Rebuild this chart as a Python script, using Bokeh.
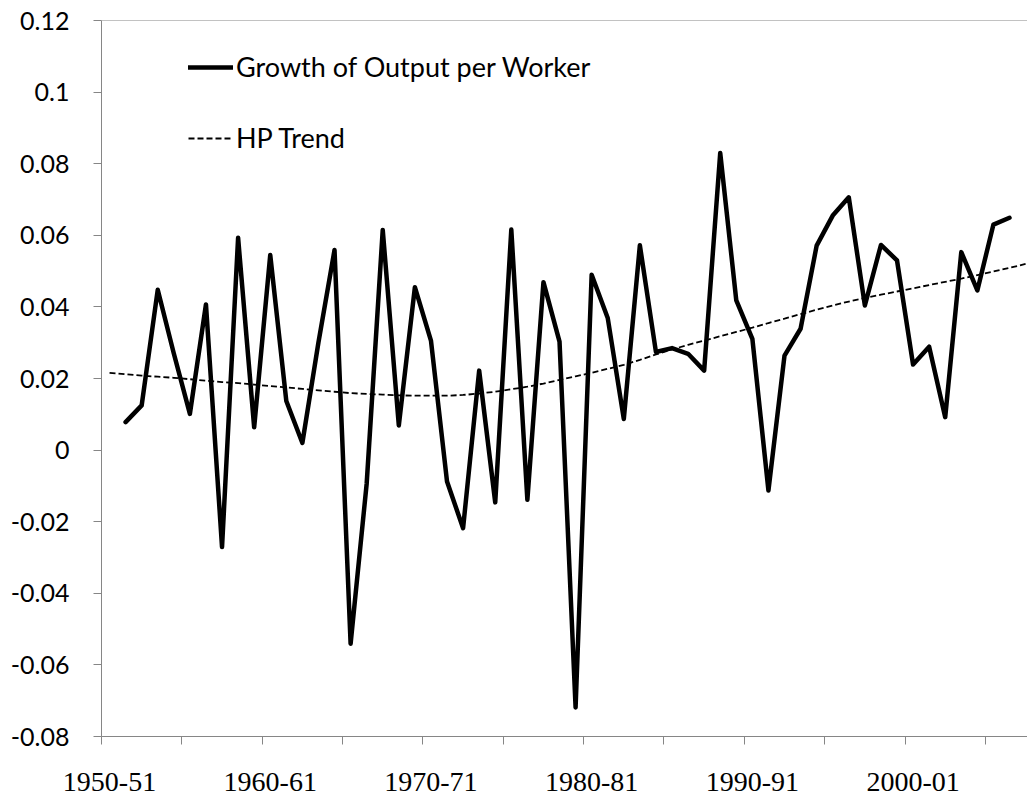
from bokeh.plotting import figure
from bokeh.models import FixedTicker, Span, Legend, LegendItem, Range1d
from bokeh.embed import file_html
from bokeh.resources import INLINE

years = ["1950-51", "1951-52", "1952-53", "1953-54", "1954-55", "1955-56", "1956-57", "1957-58",
         "1958-59", "1959-60", "1960-61", "1961-62", "1962-63", "1963-64", "1964-65", "1965-66",
         "1966-67", "1967-68", "1968-69", "1969-70", "1970-71", "1971-72", "1972-73", "1973-74",
         "1974-75", "1975-76", "1976-77", "1977-78", "1978-79", "1979-80", "1980-81", "1981-82",
         "1982-83", "1983-84", "1984-85", "1985-86", "1986-87", "1987-88", "1988-89", "1989-90",
         "1990-91", "1991-92", "1992-93", "1993-94", "1994-95", "1995-96", "1996-97", "1997-98",
         "1998-99", "1999-00", "2000-01", "2001-02", "2002-03", "2003-04", "2004-05", "2005-06",
         "2006-07", "2007-08"]

NA = float("nan")
growth = [NA, 0.0078, 0.0125, 0.0448, 0.0270, 0.0101, 0.0407, -0.0271, 0.0593, 0.0064,
          0.0545, 0.0137, 0.0020, 0.0301, 0.0559, -0.0541, -0.0094, 0.0615, 0.0069, 0.0455,
          0.0306, -0.0088, -0.0218, 0.0222, -0.0146, 0.0616, -0.0139, 0.0469, 0.0303, -0.0719,
          0.0490, 0.0369, 0.0087, 0.0572, 0.0274, 0.0285, 0.0269, 0.0222, 0.0830, 0.0418,
          0.0311, -0.0113, 0.0264, 0.0339, 0.0571, 0.0655, 0.0706, 0.0404, 0.0573, 0.0530,
          0.0239, 0.0289, 0.0092, 0.0553, 0.0446, 0.0630, 0.0649, NA]

hp_trend = [0.0216, 0.0212, 0.0208, 0.0205, 0.0202, 0.0198, 0.0194, 0.0190, 0.0187, 0.0183,
            0.0179, 0.0175, 0.0171, 0.0167, 0.0163, 0.0159, 0.0157, 0.0155, 0.0153, 0.0152,
            0.0152, 0.0152, 0.0154, 0.0158, 0.0163, 0.0170, 0.0177, 0.0186, 0.0196, 0.0206,
            0.0216, 0.0227, 0.0238, 0.0252, 0.0267, 0.0281, 0.0294, 0.0306, 0.0318, 0.0330,
            0.0342, 0.0355, 0.0367, 0.0380, 0.0392, 0.0404, 0.0415, 0.0425, 0.0434, 0.0443,
            0.0452, 0.0461, 0.0470, 0.0479, 0.0489, 0.0499, 0.0509, 0.0520]

y_ticks = [-0.08, -0.06, -0.04, -0.02, 0.0, 0.02, 0.04, 0.06, 0.08, 0.1, 0.12]
y_labels = ["-0.08", "-0.06", "-0.04", "-0.02", "0", "0.02", "0.04", "0.06", "0.08", "0.1", "0.12"]
x_label_idx = [0, 10, 20, 30, 40, 50]
x_minor = [-0.5, 4.5, 9.5, 14.5, 19.5, 24.5, 29.5, 34.5, 39.5, 44.5, 49.5, 54.5]

x = list(range(len(years)))
AXIS = "#868686"

p = figure(width=1027, height=798, output_backend="svg", toolbar_location=None,
           x_range=Range1d(-0.5, 57.12), y_range=Range1d(-0.08, 0.12),
           min_border_left=101, min_border_right=0, min_border_top=20, min_border_bottom=62)
p.xgrid.grid_line_color = None
p.ygrid.grid_line_color = None
p.outline_line_color = None
p.background_fill_color = "white"
p.border_fill_color = "white"

xa = p.xaxis[0]
xa.ticker = FixedTicker(ticks=x_label_idx, minor_ticks=x_minor)
xa.major_label_overrides = {i: years[i] for i in x_label_idx}
xa.major_tick_line_color = None
xa.major_tick_out = 8
xa.major_tick_in = 0
xa.minor_tick_line_color = AXIS
xa.minor_tick_out = 8
xa.minor_tick_in = 0
xa.axis_line_color = AXIS
xa.major_label_text_font = "Liberation Serif"
xa.major_label_text_font_size = "28px"
xa.major_label_text_color = "black"
xa.major_label_standoff = 28

ya = p.yaxis[0]
ya.ticker = FixedTicker(ticks=y_ticks)
ya.major_label_overrides = dict(zip(y_ticks, y_labels))
ya.major_tick_line_color = AXIS
ya.major_tick_out = 8
ya.major_tick_in = 0
ya.minor_tick_line_color = None
ya.axis_line_color = AXIS
ya.major_label_text_font = "Lato"
ya.major_label_text_font_size = "25px"
ya.major_label_text_color = "black"
ya.major_label_standoff = 24

p.add_layout(Span(location=0.12, dimension="width", line_color=AXIS, line_width=1))

r_growth = p.line(x, growth, line_color="black", line_width=4.5, line_join="round", line_cap="round")
r_trend = p.line(x, hp_trend, line_color="black", line_width=1.8, line_dash="6 3")

legend = Legend(items=[LegendItem(label="Growth of Output per Worker", renderers=[r_growth]),
                       LegendItem(label="HP Trend", renderers=[r_trend])],
                location=(87, 582), glyph_width=45, glyph_height=32, label_height=32,
                spacing=38, padding=0, margin=0, label_standoff=3,
                border_line_color=None, background_fill_alpha=0,
                label_text_font="Lato", label_text_font_size="27px", label_text_color="black")
p.add_layout(legend)

open("out.html", "w").write(file_html(p, INLINE))
